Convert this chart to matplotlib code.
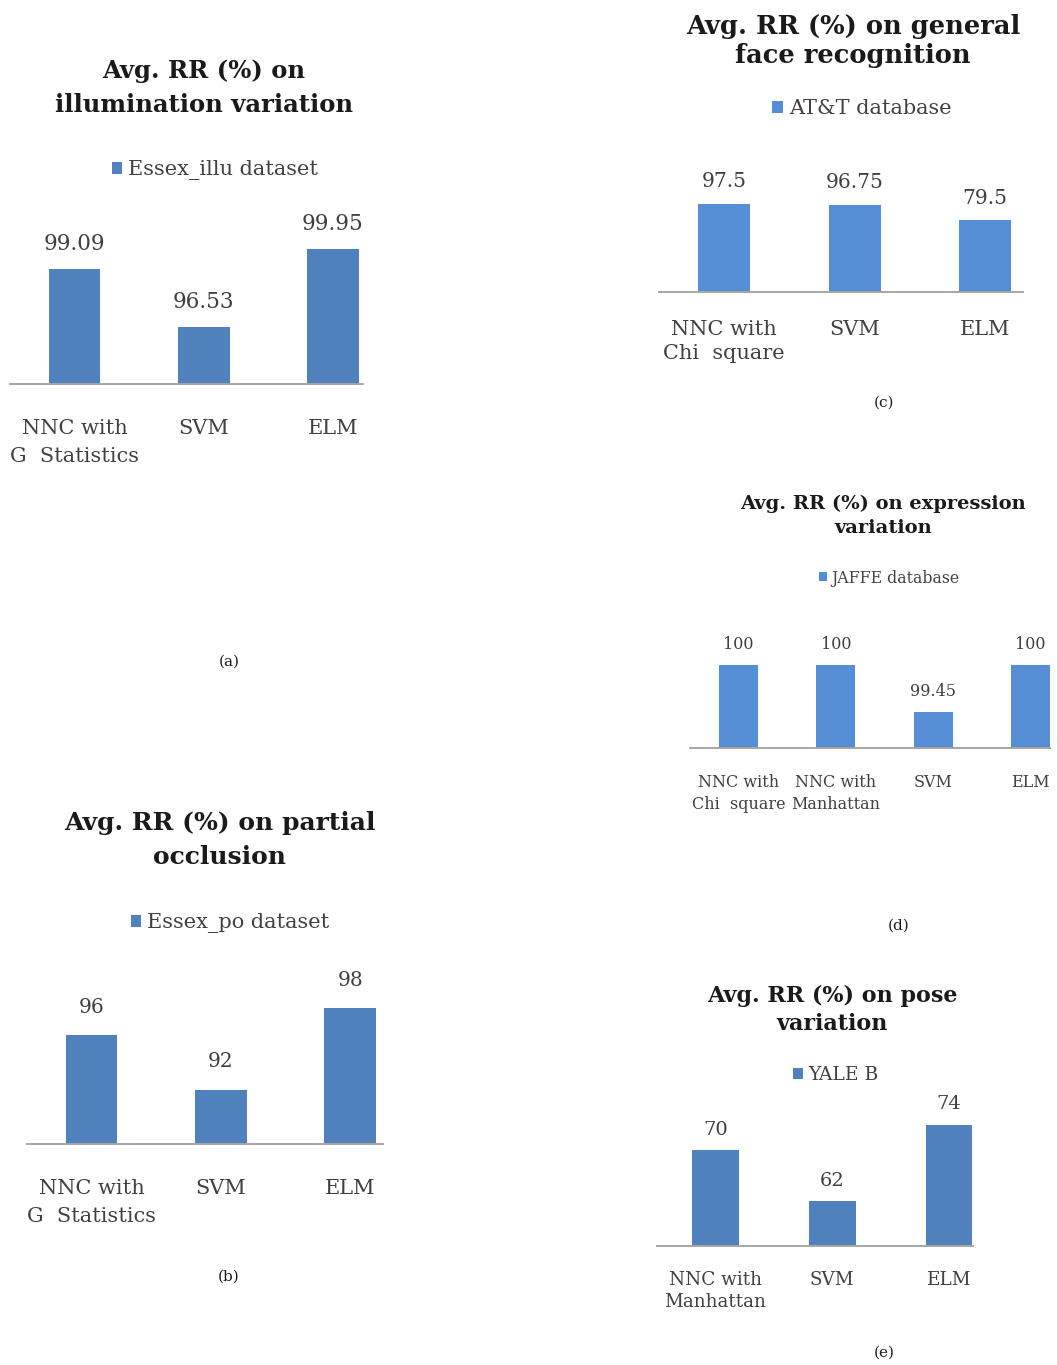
import matplotlib
matplotlib.use('Agg')
import matplotlib.pyplot as plt

plt.rcParams['font.family'] = 'DejaVu Serif'

W, H = 1057, 1365

# recognition rates for each experiment
cats_a = ['NNC with\nG  Statistics', 'SVM', 'ELM']
vals_a = [99.09, 96.53, 99.95]

cats_b = ['NNC with\nG  Statistics', 'SVM', 'ELM']
vals_b = [96, 92, 98]

cats_c = ['NNC with\nChi  square', 'SVM', 'ELM']
vals_c = [97.5, 96.75, 79.5]

cats_d = ['NNC with\nChi  square', 'NNC with\nManhattan', 'SVM', 'ELM']
vals_d = [100, 100, 99.45, 100]

cats_e = ['NNC with\nManhattan', 'SVM', 'ELM']
vals_e = [70, 62, 74]

fig = plt.figure(figsize=(W / 100, H / 100), dpi=100)


def fy(py):
    return 1 - py / H


def panel(cats, vals, ymin, box, xhi, color, title, tsize, tls, tpos, legname,
          lsize, lpos, vsize, voff, csize, cls, cpad, caption, cappos):
    left, right, base, top = box
    ax = fig.add_axes([left / W, fy(base), (right - left) / W, (base - top) / H])
    x = list(range(len(vals)))
    ax.bar(x, vals, width=0.4, color=color, label=legname, zorder=2)
    ax.set_xlim(-0.5, xhi)
    ax.set_ylim(ymin, max(vals))
    for xi, v in zip(x, vals):
        ax.annotate('{:g}'.format(v), (xi, v), xytext=(0, voff), textcoords='offset points',
                    ha='center', va='center', fontsize=vsize, color='#404040',
                    annotation_clip=False)
    ax.set_xticks(x)
    ax.set_xticklabels(cats, fontsize=csize, color='#404040', linespacing=cls)
    ax.tick_params(axis='x', length=0, pad=cpad)
    ax.set_yticks([])
    for s in ['left', 'right', 'top']:
        ax.spines[s].set_visible(False)
    ax.spines['bottom'].set_color('#a6a6a6')
    ax.spines['bottom'].set_linewidth(1.4)
    ax.spines['bottom'].set_zorder(3)
    ax.patch.set_alpha(0)

    fig.text(tpos[0] / W, fy(tpos[1]), title, ha='center', va='center',
             fontsize=tsize, fontweight='bold', color='#1a1a1a', linespacing=tls)
    ax.legend(loc='center', bbox_to_anchor=(lpos[0] / W, fy(lpos[1])),
              bbox_transform=fig.transFigure, frameon=False, fontsize=lsize,
              handlelength=0.5, handleheight=0.5, handletextpad=0.3,
              borderpad=0, labelcolor='#404040')
    fig.text(cappos[0] / W, fy(cappos[1]), caption, ha='center', va='center',
             fontsize=11, color='#1a1a1a')
    return ax


panel(cats_a, vals_a, 94, (10, 363, 384, 249), 2.233, '#4f81bd',
      'Avg. RR (%) on\nillumination variation', 17.5, 1.5, (204, 88),
      'Essex_illu dataset', 15, (215, 170), 15.5, 18, 15, 1.6, 25,
      '(a)', (229, 662))

panel(cats_b, vals_b, 88, (27, 383, 1144, 1008), 2.254, '#4f81bd',
      'Avg. RR (%) on partial\nocclusion', 18, 1.5, (220, 840),
      'Essex_po dataset', 15, (230, 923), 14.5, 20, 15, 1.65, 25,
      '(b)', (229, 1277))

panel(cats_c, vals_c, 0, (659, 1023, 292, 204), 2.291, '#558ed5',
      'Avg. RR (%) on general\nface recognition', 18.5, 1.22, (853, 41),
      'AT&T database', 15, (862, 109), 14.5, 16, 15, 1.35, 20,
      '(c)', (884, 403))

panel(cats_d, vals_d, 99.03, (690, 1050, 748, 665), 3.2, '#558ed5',
      'Avg. RR (%) on expression\nvariation', 14, 1.45, (883, 516),
      'JAFFE database', 11.3, (889, 578), 11.5, 15, 11.5, 1.35, 19,
      '(d)', (899, 926))

panel(cats_e, vals_e, 55, (657, 973, 1246, 1125), 2.205, '#4f81bd',
      'Avg. RR (%) on pose\nvariation', 16, 1.31, (832, 1010),
      'YALE B', 13.5, (836, 1075), 14, 15, 13.2, 1.3, 18,
      '(e)', (884, 1353))

fig.savefig('out.png', dpi=100)
